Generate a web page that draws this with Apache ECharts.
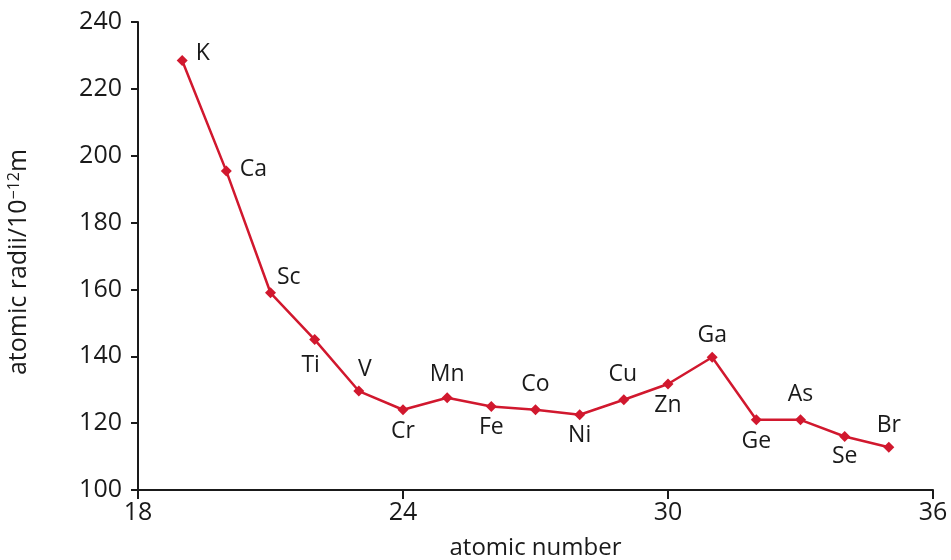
<!DOCTYPE html>
<html>
<head>
<meta charset="utf-8">
<script src="https://cdn.jsdelivr.net/npm/echarts@6/dist/echarts.min.js"></script>
<style>
  html, body { margin: 0; padding: 0; background: #fff; }
  #chart { width: 951px; height: 560px; }
</style>
</head>
<body>
<div id="chart"></div>
<script>
var elements = ['K', 'Ca', 'Sc', 'Ti', 'V', 'Cr', 'Mn', 'Fe', 'Co', 'Ni', 'Cu', 'Zn', 'Ga', 'Ge', 'As', 'Se', 'Br'];
var atomicNumbers = [19, 20, 21, 22, 23, 24, 25, 26, 27, 28, 29, 30, 31, 32, 33, 34, 35];
var radii = [228.5, 195.4, 159, 145, 129.6, 124, 127.6, 125, 124, 122.5, 127, 131.7, 139.7, 121, 121, 116, 112.8];
var xTicks = [18, 24, 30, 36];
var yTicks = [100, 120, 140, 160, 180, 200, 220, 240];

// where each element's symbol text sits
var labelPlace = {
  K: ['right', [3, -7]], Ca: ['right', [3, -2]], Sc: ['right', [-4, -15]],
  Ti: ['bottom', [-4, 4]], V: ['top', [6, 0]], Cr: ['bottom', [0, 0]],
  Mn: ['top', [0, -1]], Fe: ['bottom', [0, -1]], Co: ['top', [0, -3]],
  Ni: ['bottom', [0, -1]], Cu: ['top', [-1, -3]], Zn: ['bottom', [0, -1]],
  Ga: ['top', [0, 0]], Ge: ['bottom', [0, 0]], As: ['top', [0, -3]],
  Se: ['bottom', [0, -2]], Br: ['top', [0, 0]]
};

var chart = echarts.init(document.getElementById('chart'));

var points = atomicNumbers.map(function (n, i) {
  var p = labelPlace[elements[i]];
  return {
    value: [n, radii[i]],
    name: elements[i],
    label: { position: p[0], offset: p[1] }
  };
});

var font = 'Open Sans';

var option = {
  animation: false,
  grid: { left: 138, right: 18, top: 22, bottom: 70, outerBoundsMode: 'none', containLabel: false },
  xAxis: {
    type: 'value',
    min: xTicks[0],
    max: xTicks[xTicks.length - 1],
    interval: 6,
    name: 'atomic number',
    nameLocation: 'middle',
    nameGap: 46,
    nameTextStyle: { fontFamily: font, fontSize: 24, color: '#1a1a1a' },
    axisLine: { lineStyle: { color: '#1a1a1a', width: 2 } },
    axisTick: { length: 9, lineStyle: { color: '#1a1a1a', width: 2 } },
    axisLabel: { fontFamily: font, fontSize: 25, color: '#1a1a1a', margin: 10 },
    splitLine: { show: false }
  },
  yAxis: {
    type: 'value',
    min: yTicks[0],
    max: yTicks[yTicks.length - 1],
    interval: 20,
    name: '{n|atomic radii/10}{s|\u221212}{n|m}',
    nameLocation: 'middle',
    nameGap: 106,
    nameRotate: 90,
    nameTextStyle: {
      padding: [0, 12, 0, 0],
      rich: {
        n: { fontFamily: font, fontSize: 25, color: '#1a1a1a' },
        s: { fontFamily: font, fontSize: 16, color: '#1a1a1a', verticalAlign: 'top', padding: [0, 0, 10, 0] }
      }
    },
    axisLine: { show: true, lineStyle: { color: '#1a1a1a', width: 2 } },
    axisTick: { show: true, length: 7, lineStyle: { color: '#1a1a1a', width: 2 } },
    axisLabel: { fontFamily: font, fontSize: 25, color: '#1a1a1a', margin: 16 },
    splitLine: { show: false }
  },
  series: [
    {
      type: 'line',
      data: points,
      symbol: 'diamond',
      symbolSize: 11,
      color: '#d1182e',
      lineStyle: { width: 2.5, color: '#d1182e' },
      itemStyle: { color: '#d1182e' },
      label: {
        show: true,
        formatter: '{b}',
        fontFamily: font,
        fontSize: 23,
        color: '#1a1a1a',
        distance: 5
      }
    }
  ]
};

chart.setOption(option);
</script>
</body>
</html>
